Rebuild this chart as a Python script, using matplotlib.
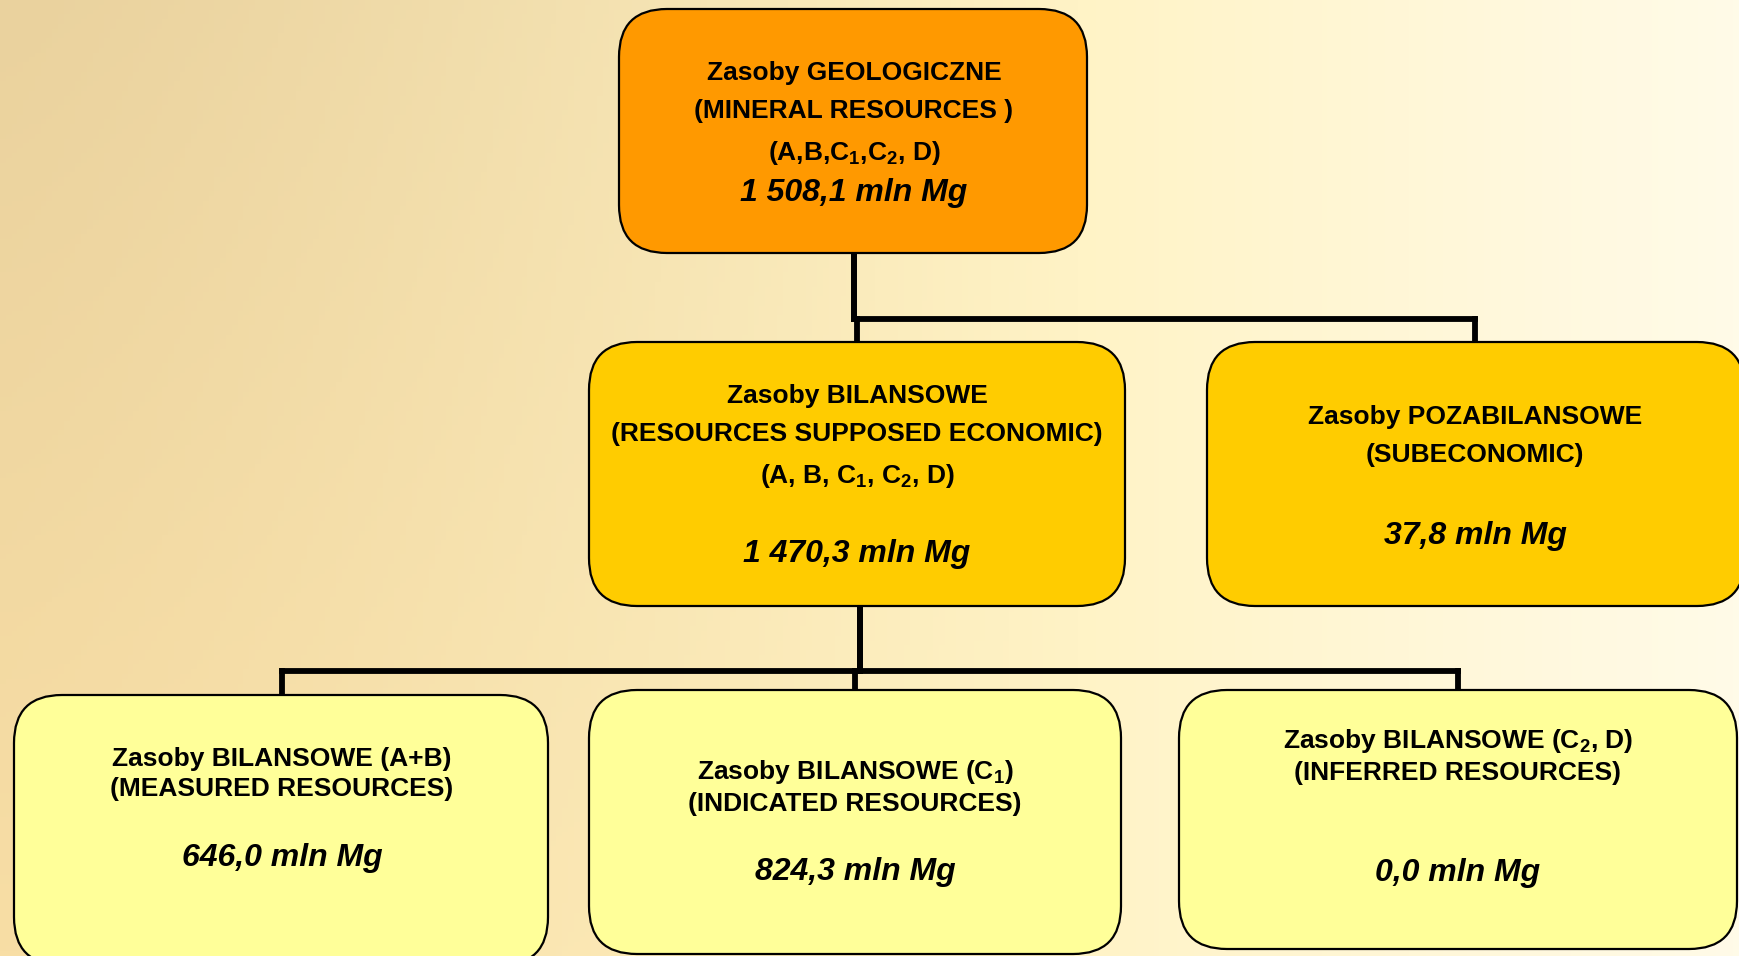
import numpy as np
import matplotlib
matplotlib.use("Agg")
import matplotlib.pyplot as plt
from matplotlib.patches import FancyBboxPatch

plt.rcParams['font.family'] = ['Liberation Sans', 'DejaVu Sans']
plt.rcParams['mathtext.fontset'] = 'custom'
plt.rcParams['mathtext.rm'] = 'Liberation Sans:bold'
plt.rcParams['mathtext.bf'] = 'Liberation Sans:bold'
plt.rcParams['mathtext.it'] = 'Liberation Sans:bold:italic'

# ---- data ----
node_ids = ["geo", "bil", "pozabil", "ab", "c1", "c2d"]
node_titles = [
    "Zasoby GEOLOGICZNE\n(MINERAL RESOURCES )\n(A,B,C$_\\mathbf{1}$,C$_\\mathbf{2}$, D)",
    "Zasoby BILANSOWE\n(RESOURCES SUPPOSED ECONOMIC)\n(A, B, C$_\\mathbf{1}$, C$_\\mathbf{2}$, D)",
    "Zasoby POZABILANSOWE\n(SUBECONOMIC)",
    "Zasoby BILANSOWE (A+B)\n(MEASURED RESOURCES)",
    "Zasoby BILANSOWE (C$_\\mathbf{1}$)\n(INDICATED RESOURCES)",
    "Zasoby BILANSOWE (C$_\\mathbf{2}$, D)\n(INFERRED RESOURCES)",
]
node_values = ["1 508,1", "1 470,3", "37,8", "646,0", "824,3", "0,0"]
unit = "mln Mg"
parents = [None, "geo", "geo", "bil", "bil", "bil"]

# ---- layout (pixel coordinates) ----
boxes = {  # x0, y0, x1, y1
    "geo": (619, 9, 1087, 253),
    "bil": (589, 342, 1125, 606),
    "pozabil": (1207, 342, 1745, 606),
    "ab": (14, 695, 548, 965),
    "c1": (589, 690, 1121, 954),
    "c2d": (1179, 690, 1737, 949),
}
colors = {"geo": "#FF9900", "bil": "#FFCC00", "pozabil": "#FFCC00",
          "ab": "#FFFF99", "c1": "#FFFF99", "c2d": "#FFFF99"}
title_y = {"geo": 114, "bil": 437, "pozabil": 436, "ab": 774, "c1": 787, "c2d": 756}
value_y = {"geo": 193, "bil": 554, "pozabil": 536, "ab": 858, "c1": 872, "c2d": 873}
cx = {"geo": 854, "bil": 857, "pozabil": 1475, "ab": 282, "c1": 855, "c2d": 1458}
linesp = {"geo": 1.75, "bil": 1.75, "pozabil": 1.75, "ab": 1.3, "c1": 1.3, "c2d": 1.3}
bus_levels = {"geo": 319, "bil": 671}
bus_x = {"geo": 854, "bil": 860}

W, H = 1739, 956
fig = plt.figure(figsize=(W / 100, H / 100), dpi=100)
ax = fig.add_axes([0, 0, 1, 1])
ax.set_xlim(0, W)
ax.set_ylim(H, 0)
ax.axis("off")

# background gradient
xx = np.linspace(0, 1, 300)
yy = np.linspace(0, 1, 200)
X, Y = np.meshgrid(xx, yy)
left_top = np.array([234, 210, 158]) / 255
left_bot = np.array([248, 222, 165]) / 255
mid = np.array([255, 243, 198]) / 255
right = np.array([255, 251, 232]) / 255
t = np.clip(X / 0.62, 0, 1)[..., None] ** 1.3
leftcol = left_top * (1 - Y[..., None]) + left_bot * Y[..., None]
midcol = leftcol * (1 - t) + mid * t
t2 = np.clip((X - 0.62) / 0.38, 0, 1)[..., None]
img = midcol * (1 - t2) + right * t2
ax.imshow(img, extent=(0, W, H, 0), aspect="auto", zorder=0)

# connectors
lw = 4.2
def vline(x, y0, y1):
    ax.plot([x, x], [y0, y1], color="black", lw=lw, solid_capstyle="projecting", zorder=1)
def hline(y, x0, x1):
    ax.plot([x0, x1], [y, y], color="black", lw=lw, solid_capstyle="projecting", zorder=1)

for nid, par in zip(node_ids, parents):
    if par is None:
        continue
    py1 = boxes[par][3]
    y0 = boxes[nid][1]
    px = bus_x[par]
    by = bus_levels[par]
    vline(px, py1, by)
    ccx = cx[nid]
    hline(by, min(px, ccx), max(px, ccx))
    vline(ccx, by, y0)

# boxes and text
for nid, title, val in zip(node_ids, node_titles, node_values):
    x0, y0, x1, y1 = boxes[nid]
    p = FancyBboxPatch((x0, y0), x1 - x0, y1 - y0,
                       boxstyle="round,pad=0,rounding_size=48",
                       fc=colors[nid], ec="black", lw=1.6, zorder=2)
    ax.add_patch(p)
    ax.text(cx[nid], title_y[nid], title, ha="center", va="center",
            fontsize=19, fontweight="bold", linespacing=linesp[nid], zorder=3)
    ax.text(cx[nid], value_y[nid], f"{val} {unit}", ha="center", va="center",
            fontsize=23, fontweight="bold", fontstyle="italic", zorder=3)

fig.savefig("out.png", dpi=100)
